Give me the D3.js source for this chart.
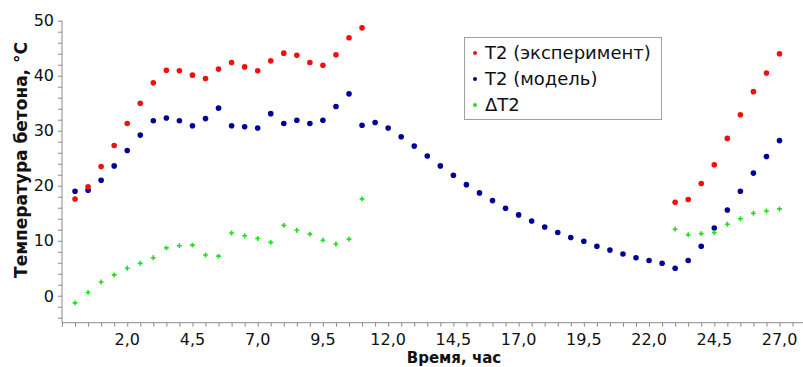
<!DOCTYPE html>
<html>
<head>
<meta charset="utf-8">
<script src="https://cdn.jsdelivr.net/npm/d3@7"></script>
<style>
  body { margin: 0; background: #fff; }
  svg { display: block; font-family: "DejaVu Sans", Verdana, sans-serif; }
</style>
</head>
<body>
<div id="chart"></div>
<script>
const width = 803;
const height = 367;

// time, hours
const tExp1 = [0, 0.5, 1, 1.5, 2, 2.5, 3, 3.5, 4, 4.5, 5, 5.5, 6, 6.5, 7, 7.5, 8, 8.5, 9, 9.5, 10, 10.5, 11];
const tExp2 = [23, 23.5, 24, 24.5, 25, 25.5, 26, 26.5, 27];
const tModel = [0, 0.5, 1, 1.5, 2, 2.5, 3, 3.5, 4, 4.5, 5, 5.5, 6, 6.5, 7, 7.5, 8, 8.5, 9, 9.5,
  10, 10.5, 11, 11.5, 12, 12.5, 13, 13.5, 14, 14.5, 15, 15.5, 16, 16.5, 17, 17.5, 18, 18.5, 19, 19.5,
  20, 20.5, 21, 21.5, 22, 22.5, 23, 23.5, 24, 24.5, 25, 25.5, 26, 26.5, 27];

// T2 experiment
const expVals1 = [17.6, 19.8, 23.5, 27.3, 31.3, 35.0, 38.7, 41.0, 40.9, 40.1, 39.5, 41.2, 42.4, 41.6, 40.9,
  42.7, 44.1, 43.7, 42.4, 41.9, 43.8, 46.9, 48.7];
const expVals2 = [17.0, 17.5, 20.4, 23.8, 28.6, 32.9, 37.1, 40.5, 44.0];

// T2 model
const modelVals = [19.0, 19.2, 21.0, 23.6, 26.4, 29.2, 31.8, 32.3, 31.8, 30.9, 32.2, 34.1, 30.9, 30.7, 30.5,
  33.1, 31.3, 31.9, 31.3, 31.9, 34.4, 36.7, 31.0,
  31.5, 30.5, 28.9, 27.2, 25.4, 23.6, 21.9, 20.2, 18.7, 17.3, 15.9, 14.7,
  13.6, 12.5, 11.5, 10.6, 9.9, 9.0, 8.3, 7.6, 6.9, 6.4, 5.9, 5.0, 6.4, 9.0, 12.3, 15.6, 19.0, 22.3, 25.3, 28.2];

// delta T2
const dVals1 = [-1.3, 0.6, 2.5, 3.8, 5.0, 5.9, 6.9, 8.7, 9.1, 9.2, 7.4, 7.2, 11.4, 10.9, 10.4,
  9.7, 12.8, 11.9, 11.2, 10.1, 9.4, 10.3, 17.6];
const dVals2 = [12.1, 11.1, 11.3, 11.5, 13.0, 14.0, 15.0, 15.4, 15.8];

const xLabelTicks = [2.0, 4.5, 7.0, 9.5, 12.0, 14.5, 17.0, 19.5, 22.0, 24.5, 27.0];
const yLabelTicks = [0, 10, 20, 30, 40, 50];
const legendNames = ["T2 (эксперимент)", "T2 (модель)", "ΔT2"];

const colRed = "#f01010";
const colBlue = "#000096";
const colGreen = "#22dd22";

const svg = d3.select("#chart").append("svg")
  .attr("width", width)
  .attr("height", height);

const x = d3.scaleLinear().domain([-0.5, 27.9]).range([62, 803]);
const y = d3.scaleLinear().domain([-4.9, 50]).range([322.7, 20.7]);

// Axes
const axisColor = "#8a8a8a";
const xMinor = d3.range(-0.5, 28.0, 0.5);
const yMinor = d3.range(-4, 51, 2);

const xAxis = svg.append("g")
  .attr("transform", `translate(0,${y(-4.9)})`)
  .call(d3.axisBottom(x).tickValues(xMinor).tickSize(4).tickFormat(""));
xAxis.select(".domain").attr("d", `M62,0H803`);
xAxis.selectAll("line").attr("stroke", axisColor);
xAxis.select(".domain").attr("stroke", axisColor);

svg.append("g").selectAll("text")
  .data(xLabelTicks)
  .enter()
  .append("text")
  .attr("x", d => x(d))
  .attr("y", 345)
  .attr("text-anchor", "middle")
  .style("font-size", "16px")
  .attr("fill", "#111")
  .text(d => d.toFixed(1).replace(".", ","));

const yAxis = svg.append("g")
  .attr("transform", `translate(62,0)`)
  .call(d3.axisLeft(y).tickValues(yMinor).tickSize(4).tickFormat(""));
yAxis.select(".domain").attr("d", `M0,${y(50)}V${y(-4.9)}`);
yAxis.selectAll("line").attr("stroke", axisColor);
yAxis.select(".domain").attr("stroke", axisColor);

svg.append("g").selectAll("text")
  .data(yLabelTicks)
  .enter()
  .append("text")
  .attr("x", 54)
  .attr("y", d => y(d))
  .attr("dy", "0.36em")
  .attr("text-anchor", "end")
  .style("font-size", "16px")
  .attr("fill", "#111")
  .text(d => d);

// Axis titles
svg.append("text")
  .attr("transform", "translate(27,160) rotate(-90)")
  .attr("text-anchor", "middle")
  .style("font-size", "17px")
  .style("font-weight", "bold")
  .attr("fill", "#111")
  .text("Температура бетона, °С");

svg.append("text")
  .attr("x", 454)
  .attr("y", 363.2)
  .attr("text-anchor", "middle")
  .style("font-size", "15px")
  .style("font-weight", "bold")
  .attr("fill", "#111")
  .text("Время, час");

// Points
function drawDots(ts, vs, color) {
  svg.append("g").selectAll("circle")
    .data(ts.map((t, i) => [t, vs[i]]))
    .enter()
    .append("circle")
    .attr("cx", d => x(d[0]))
    .attr("cy", d => y(d[1]))
    .attr("r", 2.8)
    .attr("fill", color);
}

function drawCross(ts, vs, color) {
  const sym = d3.symbol().type(d3.symbolCross).size(13);
  svg.append("g").selectAll("path")
    .data(ts.map((t, i) => [t, vs[i]]))
    .enter()
    .append("path")
    .attr("transform", d => `translate(${x(d[0])},${y(d[1])})`)
    .attr("d", sym)
    .attr("fill", color);
}

drawDots(tModel, modelVals, colBlue);
drawDots(tExp1, expVals1, colRed);
drawDots(tExp2, expVals2, colRed);
drawCross(tExp1, dVals1, colGreen);
drawCross(tExp2, dVals2, colGreen);

// Legend
const legend = svg.append("g").attr("class", "legend");
legend.append("rect")
  .attr("x", 464.5)
  .attr("y", 37.5)
  .attr("width", 197)
  .attr("height", 82)
  .attr("fill", "#fff")
  .attr("stroke", "#a0a0a0");

const legendColors = [colRed, colBlue, colGreen];
const legendItems = legend.selectAll(".legend-item")
  .data(legendNames)
  .enter()
  .append("g")
  .attr("class", "legend-item")
  .attr("transform", (d, i) => `translate(0,${53 + i * 26})`);

legendItems.append("circle")
  .attr("cx", 475)
  .attr("cy", 0)
  .attr("r", 2)
  .attr("fill", (d, i) => legendColors[i]);

legendItems.append("text")
  .attr("x", 485)
  .attr("y", 0)
  .attr("dy", "0.36em")
  .style("font-size", "18px")
  .attr("fill", "#111")
  .text(d => d);
</script>
</body>
</html>
